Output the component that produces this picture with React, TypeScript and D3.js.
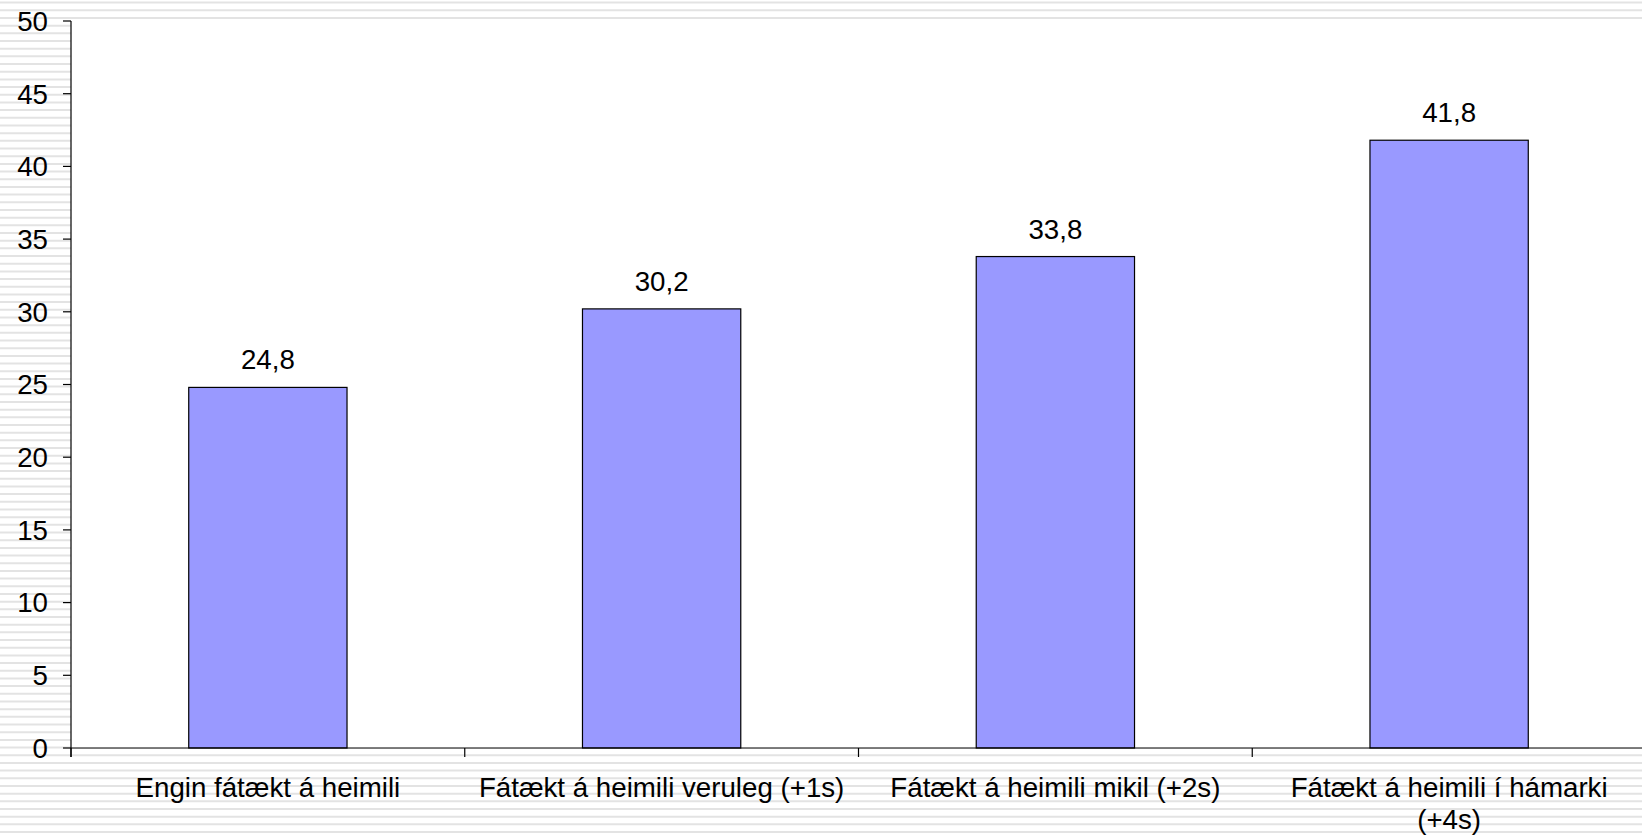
import React from "react";
import * as d3 from "d3";

const categories: string[][] = [
  ["Engin fátækt á heimili"],
  ["Fátækt á heimili veruleg (+1s)"],
  ["Fátækt á heimili mikil (+2s)"],
  ["Fátækt á heimili í hámarki", "(+4s)"],
];
const values: number[] = [24.8, 30.2, 33.8, 41.8];
const valueLabels: string[] = ["24,8", "30,2", "33,8", "41,8"];
const yTicks: number[] = [0, 5, 10, 15, 20, 25, 30, 35, 40, 45, 50];

const W = 1642;
const H = 838;
const left = 71;
const right = 1646;
const top = 21;
const bottom = 748;
const FONT = "'Liberation Sans', Arial, sans-serif";
const FS = 27.7;

export default function App() {
  const x = d3
    .scaleBand<number>()
    .domain(d3.range(categories.length))
    .range([left, right])
    .paddingInner(0)
    .paddingOuter(0);
  const y = d3.scaleLinear().domain([0, 50]).range([bottom, top]);
  const barW = x.bandwidth() * 0.402;

  const stripes: number[] = [];
  for (let s = 2.6; s < H; s += 7.68) stripes.push(s);

  const catTicks = d3.range(categories.length + 1).map((i) => left + i * x.step());

  return (
    <svg
      width={W}
      height={H}
      style={{ position: "absolute", left: 0, top: 0, background: "#ffffff" }}
      fontFamily={FONT}
    >
      <rect x={0} y={0} width={W} height={H} fill="#ffffff" />
      {stripes.map((s, i) => (
        <line key={i} x1={0} x2={W} y1={s} y2={s} stroke="#e3e3e3" strokeWidth={2} />
      ))}
      <rect x={left} y={top} width={W - left} height={bottom - top} fill="#ffffff" />

      {values.map((v, i) => {
        const cx = (x(i) as number) + x.bandwidth() / 2;
        return (
          <g key={i}>
            <rect
              x={cx - barW / 2}
              y={y(v)}
              width={barW}
              height={bottom - y(v)}
              fill="#9999ff"
              stroke="#000000"
              strokeWidth={1.2}
            />
            <text x={cx} y={y(v) - 18} textAnchor="middle" fontSize={FS} fill="#000">
              {valueLabels[i]}
            </text>
          </g>
        );
      })}

      {/* axes */}
      <line x1={left} x2={left} y1={top} y2={bottom + 9} stroke="#000" strokeWidth={1.2} />
      <line x1={left} x2={W} y1={bottom} y2={bottom} stroke="#000" strokeWidth={1.2} />
      {yTicks.map((t) => (
        <g key={t}>
          <line x1={left - 8} x2={left} y1={y(t)} y2={y(t)} stroke="#000" strokeWidth={1.2} />
          <text x={48} y={y(t) + 9.8} textAnchor="end" fontSize={FS} fill="#000">
            {t}
          </text>
        </g>
      ))}
      {catTicks.map((t, i) => (
        <line key={i} x1={t} x2={t} y1={bottom} y2={bottom + 9} stroke="#000" strokeWidth={1.2} />
      ))}
      {categories.map((lines, i) => {
        const cx = (x(i) as number) + x.bandwidth() / 2;
        return (
          <text key={i} x={cx} y={797} textAnchor="middle" fontSize={FS} fill="#000">
            {lines.map((l, j) => (
              <tspan key={j} x={cx} dy={j === 0 ? 0 : 32}>
                {l}
              </tspan>
            ))}
          </text>
        );
      })}
    </svg>
  );
}
